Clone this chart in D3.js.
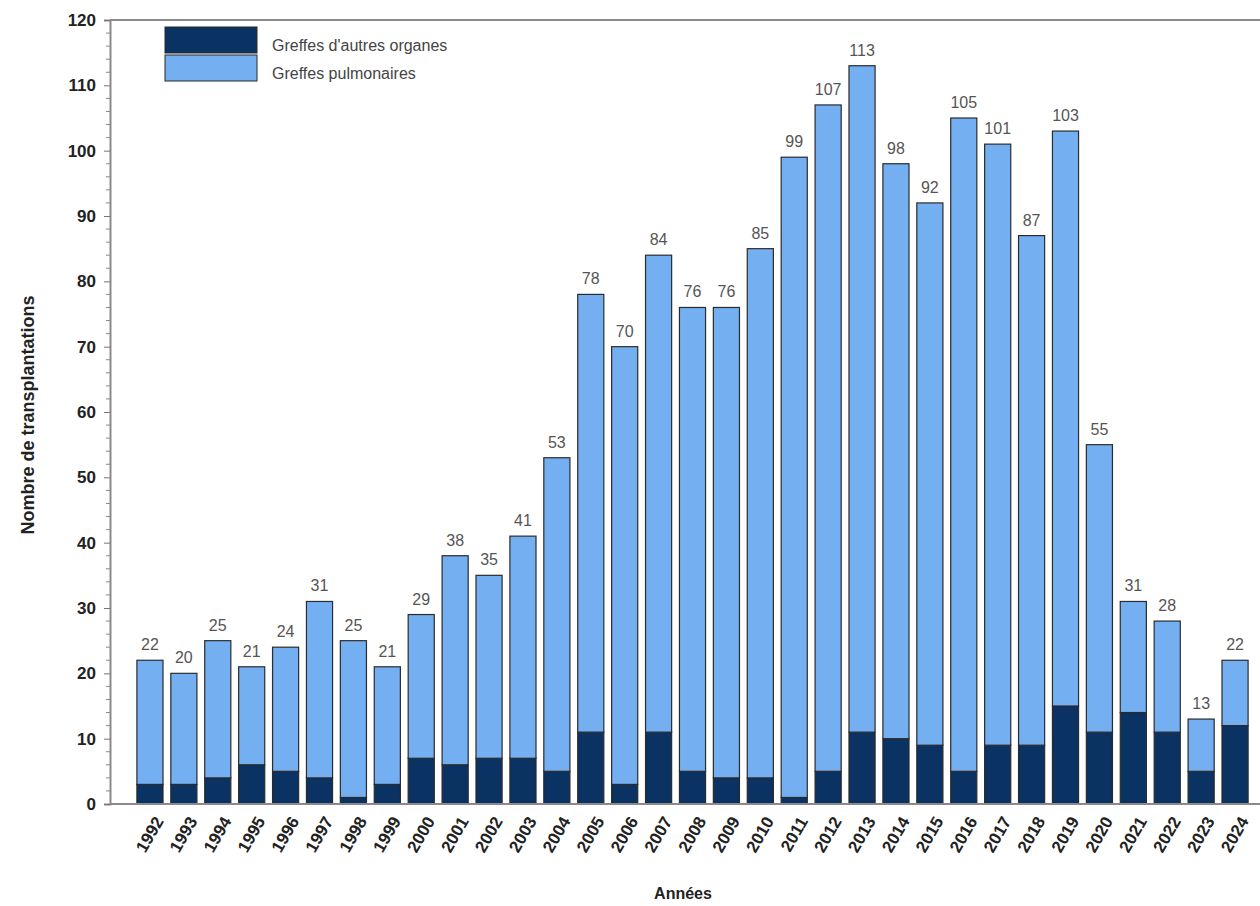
<!DOCTYPE html>
<html>
<head>
<meta charset="utf-8">
<script src="https://cdn.jsdelivr.net/npm/d3@7"></script>
<style>
  body { margin: 0; background: #fff; }
  svg { display: block; font-family: Arial, "Liberation Sans", sans-serif; }
</style>
</head>
<body>
<div id="chart"></div>
<script>
// data
var years = ["1992","1993","1994","1995","1996","1997","1998","1999","2000","2001","2002",
  "2003","2004","2005","2006","2007","2008","2009","2010","2011","2012","2013","2014",
  "2015","2016","2017","2018","2019","2020","2021","2022","2023","2024"];
var autres = [3,3,4,6,5,4,1,3,7,6,7,7,5,11,3,11,5,4,4,1,5,11,10,9,5,9,9,15,11,14,11,5,12];
var pulmonaires = [19,17,21,15,19,27,24,18,22,32,28,34,48,67,67,73,71,72,81,98,102,102,88,83,100,92,78,88,44,17,17,8,10];
var yTicks = [0,10,20,30,40,50,60,70,80,90,100,110,120];
var seriesNames = ["Greffes d'autres organes", "Greffes pulmonaires"];

var width = 1260, height = 906;
var colors = ["#0a3263", "#74aff2"];

var svg = d3.select("#chart").append("svg")
  .attr("width", width)
  .attr("height", height);

//scales
var x = d3.scaleBand()
  .domain(years)
  .range([133, 1252])
  .paddingInner(0.23)
  .paddingOuter(0.115);

var y = d3.scaleLinear()
  .domain([0, 120])
  .range([804, 20]);

//stack
var table = years.map((yr, i) => ({year: yr, autres: autres[i], pulmonaires: pulmonaires[i]}));
var stacked = d3.stack().keys(["autres", "pulmonaires"])(table);

//frame top line
svg.append("line")
  .attr("x1", 110).attr("x2", width)
  .attr("y1", y(120)).attr("y2", y(120))
  .attr("stroke", "#8a8a8a").attr("stroke-width", 2);

//bars
svg.append("g").selectAll("g")
  .data(stacked)
  .enter()
  .append("g")
    .attr("fill", (d, i) => colors[i])
  .selectAll("rect")
  .data(d => d)
  .enter()
  .append("rect")
    .attr("x", d => x(d.data.year))
    .attr("y", d => y(d[1]))
    .attr("width", x.bandwidth())
    .attr("height", d => y(d[0]) - y(d[1]))
    .attr("stroke", "#2b2b2b")
    .attr("stroke-width", 1.2);

//value labels
svg.append("g").selectAll("text")
  .data(table)
  .enter()
  .append("text")
    .attr("x", d => x(d.year) + x.bandwidth() / 2)
    .attr("y", d => y(d.autres + d.pulmonaires) - 10)
    .attr("text-anchor", "middle")
    .style("font-size", "16px")
    .style("fill", "#555")
    .text(d => d.autres + d.pulmonaires);

//y axis
var yAxis = svg.append("g")
  .attr("transform", "translate(110,0)")
  .call(d3.axisLeft(y).tickValues(yTicks).tickSize(6).tickPadding(8));
yAxis.select(".domain").attr("stroke", "#8a8a8a").attr("stroke-width", 2);
yAxis.selectAll(".tick line").attr("stroke", "#777");
yAxis.selectAll("text")
  .style("font-size", "17px")
  .style("font-weight", "bold")
  .style("fill", "#222");

//minor ticks
svg.append("g").selectAll("line")
  .data(d3.range(0, 121, 2).filter(v => v % 10 !== 0))
  .enter()
  .append("line")
    .attr("x1", 106).attr("x2", 110)
    .attr("y1", d => y(d)).attr("y2", d => y(d))
    .attr("stroke", "#888");

//x axis
var xAxis = svg.append("g")
  .attr("transform", "translate(0,804)")
  .call(d3.axisBottom(x).tickSize(0));
xAxis.select(".domain").attr("d", "M110,0H" + width).attr("stroke", "#8a8a8a").attr("stroke-width", 2);
xAxis.selectAll("text")
  .attr("text-anchor", "end")
  .attr("transform", "translate(9,14) rotate(-60)")
  .attr("dy", "0.35em")
  .attr("y", 0)
  .attr("x", 0)
  .style("font-size", "17px")
  .style("font-weight", "bold")
  .style("fill", "#222");

//axis titles
svg.append("text")
  .attr("x", 683).attr("y", 899)
  .attr("text-anchor", "middle")
  .style("font-size", "16px")
  .style("font-weight", "bold")
  .style("fill", "#222")
  .text("Années");

svg.append("text")
  .attr("transform", "translate(34,415) rotate(-90)")
  .attr("text-anchor", "middle")
  .style("font-size", "18px")
  .style("font-weight", "bold")
  .style("fill", "#222")
  .text("Nombre de transplantations");

//legend
var legend = svg.append("g").attr("transform", "translate(165,27)");
legend.selectAll("rect")
  .data(seriesNames)
  .enter()
  .append("rect")
    .attr("x", 0)
    .attr("y", (d, i) => i * 28)
    .attr("width", 92)
    .attr("height", 26)
    .attr("fill", (d, i) => colors[i])
    .attr("stroke", "#2b2b2b")
    .attr("stroke-width", 1);
legend.selectAll("text")
  .data(seriesNames)
  .enter()
  .append("text")
    .attr("x", 107)
    .attr("y", (d, i) => i * 28 + 24)
    .style("font-size", "16px")
    .style("fill", "#444")
    .text(d => d);
</script>
</body>
</html>
